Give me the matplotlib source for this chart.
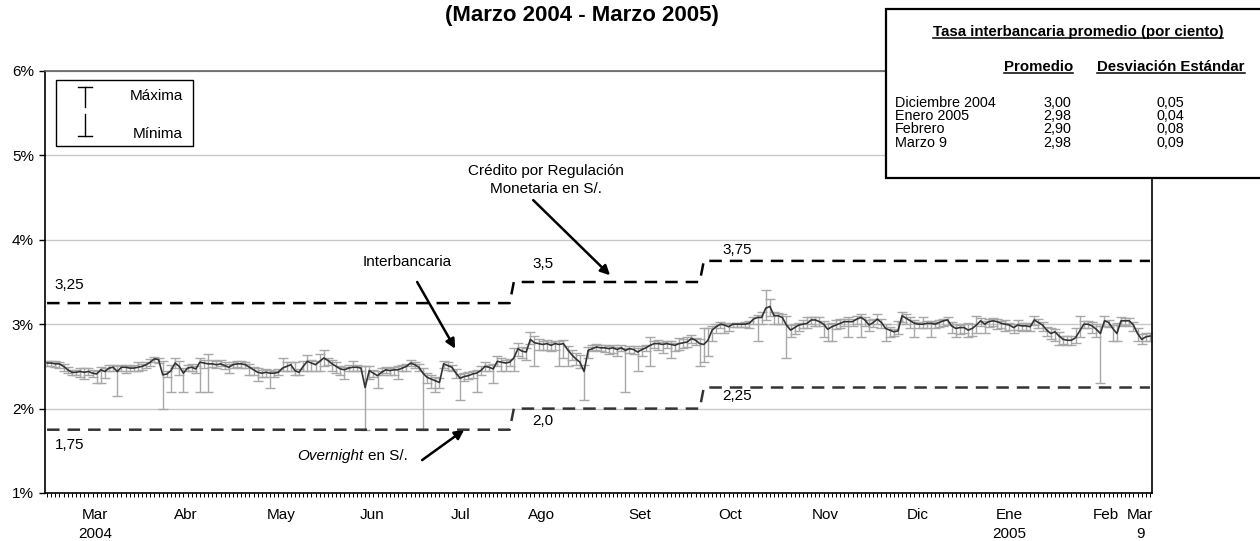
import numpy as np
import matplotlib
matplotlib.use('Agg')
import matplotlib.pyplot as plt
from matplotlib.patches import Rectangle
from matplotlib.lines import Line2D

plt.rcParams['font.family'] = ['Liberation Sans', 'DejaVu Sans']

# Tasa interbancaria diaria (%): promedio, maxima y minima
tasa_prom = [2.54, 2.54, 2.53, 2.53, 2.50, 2.46, 2.43, 2.43, 2.44, 2.43,
             2.44, 2.42, 2.41, 2.46, 2.44, 2.48, 2.49, 2.44, 2.49, 2.49,
             2.48, 2.48, 2.49, 2.50, 2.52, 2.55, 2.59, 2.58, 2.40, 2.41,
             2.45, 2.54, 2.50, 2.42, 2.48, 2.49, 2.47, 2.55, 2.54, 2.53,
             2.53, 2.52, 2.53, 2.51, 2.49, 2.52, 2.53, 2.53, 2.52, 2.49,
             2.46, 2.43, 2.42, 2.43, 2.42, 2.42, 2.43, 2.48, 2.50, 2.52,
             2.45, 2.43, 2.50, 2.56, 2.54, 2.52, 2.56, 2.60, 2.57, 2.53,
             2.50, 2.47, 2.46, 2.48, 2.49, 2.49, 2.48, 2.25, 2.45, 2.42,
             2.39, 2.43, 2.46, 2.45, 2.46, 2.46, 2.48, 2.50, 2.54, 2.52,
             2.49, 2.42, 2.37, 2.35, 2.33, 2.31, 2.53, 2.51, 2.49, 2.42,
             2.36, 2.38, 2.39, 2.41, 2.42, 2.45, 2.50, 2.49, 2.47, 2.56,
             2.55, 2.54, 2.55, 2.60, 2.71, 2.68, 2.67, 2.82, 2.78, 2.77,
             2.76, 2.77, 2.75, 2.77, 2.76, 2.77, 2.70, 2.64, 2.59, 2.55,
             2.44, 2.69, 2.71, 2.73, 2.72, 2.72, 2.71, 2.72, 2.70, 2.72,
             2.69, 2.71, 2.70, 2.67, 2.70, 2.72, 2.75, 2.77, 2.77, 2.76,
             2.77, 2.76, 2.75, 2.77, 2.78, 2.79, 2.83, 2.81, 2.77, 2.76,
             2.81, 2.93, 2.97, 3.00, 2.99, 2.97, 3.00, 3.00, 3.00, 3.00,
             3.01, 3.06, 3.08, 3.08, 3.19, 3.21, 3.10, 3.10, 3.08, 2.99,
             2.93, 2.96, 2.99, 3.00, 3.01, 3.05, 3.05, 3.03, 3.00, 2.94,
             2.97, 2.99, 3.01, 3.03, 3.03, 3.03, 3.06, 3.08, 3.05, 2.99,
             3.02, 3.06, 3.02, 2.95, 2.93, 2.91, 2.92, 3.10, 3.07, 3.04,
             3.01, 3.00, 3.00, 3.01, 3.01, 3.00, 3.02, 3.04, 3.05, 2.98,
             2.95, 2.96, 2.96, 2.93, 2.95, 2.99, 3.04, 3.00, 3.03, 3.04,
             3.03, 3.01, 3.00, 2.99, 2.96, 2.99, 2.98, 2.98, 2.97, 3.05,
             3.02, 2.99, 2.93, 2.89, 2.91, 2.86, 2.82, 2.81, 2.81, 2.84,
             2.92, 3.00, 3.00, 2.98, 2.94, 2.89, 3.04, 3.02, 2.95, 2.89,
             3.04, 3.04, 3.04, 2.99, 2.89, 2.82, 2.85, 2.86]

tasa_max = [2.56, 2.56, 2.56, 2.55, 2.53, 2.49, 2.46, 2.46, 2.48, 2.48,
            2.48, 2.46, 2.45, 2.49, 2.48, 2.52, 2.52, 2.50, 2.52, 2.52,
            2.51, 2.52, 2.55, 2.53, 2.55, 2.59, 2.61, 2.60, 2.56, 2.45,
            2.52, 2.60, 2.56, 2.48, 2.52, 2.53, 2.51, 2.60, 2.58, 2.65,
            2.57, 2.56, 2.57, 2.55, 2.53, 2.55, 2.56, 2.56, 2.55, 2.53,
            2.49, 2.48, 2.46, 2.47, 2.46, 2.45, 2.47, 2.60, 2.55, 2.55,
            2.55, 2.47, 2.56, 2.63, 2.58, 2.56, 2.65, 2.70, 2.60, 2.58,
            2.55, 2.50, 2.49, 2.52, 2.56, 2.52, 2.51, 2.50, 2.50, 2.46,
            2.44, 2.48, 2.49, 2.48, 2.49, 2.50, 2.52, 2.53, 2.57, 2.55,
            2.53, 2.48, 2.42, 2.40, 2.38, 2.36, 2.56, 2.55, 2.52, 2.47,
            2.41, 2.42, 2.43, 2.45, 2.46, 2.50, 2.55, 2.52, 2.53, 2.62,
            2.60, 2.57, 2.59, 2.72, 2.78, 2.73, 2.72, 2.91, 2.86, 2.82,
            2.80, 2.81, 2.79, 2.80, 2.80, 2.81, 2.74, 2.70, 2.66, 2.63,
            2.52, 2.73, 2.75, 2.76, 2.75, 2.75, 2.74, 2.75, 2.73, 2.75,
            2.72, 2.74, 2.74, 2.72, 2.74, 2.75, 2.85, 2.80, 2.81, 2.79,
            2.80, 2.80, 2.78, 2.84, 2.83, 2.85, 2.87, 2.84, 2.82, 2.95,
            2.95, 2.98, 3.00, 3.03, 3.02, 3.00, 3.02, 3.02, 3.02, 3.03,
            3.04, 3.09, 3.11, 3.14, 3.40, 3.30, 3.15, 3.13, 3.12, 3.10,
            2.99, 3.00, 3.02, 3.05, 3.08, 3.09, 3.08, 3.08, 3.04, 3.00,
            3.02, 3.05, 3.06, 3.06, 3.08, 3.06, 3.10, 3.12, 3.08, 3.05,
            3.06, 3.12, 3.06, 3.00, 2.97, 2.94, 3.04, 3.15, 3.12, 3.08,
            3.05, 3.03, 3.08, 3.04, 3.04, 3.03, 3.05, 3.06, 3.08, 3.03,
            3.00, 2.99, 3.00, 3.02, 3.00, 3.10, 3.07, 3.04, 3.06, 3.07,
            3.06, 3.04, 3.05, 3.02, 3.00, 3.05, 3.01, 3.01, 3.00, 3.10,
            3.06, 3.03, 2.97, 2.95, 2.94, 2.91, 2.86, 2.86, 2.86, 2.95,
            3.10, 3.04, 3.04, 3.03, 3.00, 2.98, 3.10, 3.05, 2.99, 3.02,
            3.08, 3.07, 3.07, 3.03, 2.95, 2.88, 2.90, 2.90]

tasa_min = [2.50, 2.50, 2.49, 2.48, 2.45, 2.42, 2.40, 2.40, 2.38, 2.35,
            2.40, 2.38, 2.30, 2.30, 2.36, 2.44, 2.45, 2.15, 2.44, 2.42,
            2.44, 2.45, 2.45, 2.46, 2.48, 2.50, 2.55, 2.54, 2.00, 2.38,
            2.20, 2.48, 2.40, 2.20, 2.44, 2.44, 2.42, 2.20, 2.48, 2.20,
            2.49, 2.48, 2.50, 2.47, 2.42, 2.48, 2.49, 2.48, 2.48, 2.40,
            2.40, 2.33, 2.38, 2.38, 2.25, 2.38, 2.40, 2.44, 2.45, 2.45,
            2.40, 2.40, 2.45, 2.45, 2.45, 2.45, 2.45, 2.50, 2.52, 2.45,
            2.42, 2.40, 2.35, 2.44, 2.45, 2.45, 2.44, 1.75, 2.35, 2.38,
            2.25, 2.40, 2.42, 2.40, 2.40, 2.35, 2.45, 2.45, 2.50, 2.48,
            2.45, 1.75, 2.30, 2.25, 2.20, 2.25, 2.48, 2.46, 2.45, 2.36,
            2.10, 2.33, 2.35, 2.36, 2.20, 2.40, 2.45, 2.44, 2.30, 2.50,
            2.45, 2.45, 2.50, 2.45, 2.62, 2.60, 2.58, 2.76, 2.50, 2.70,
            2.70, 2.70, 2.68, 2.70, 2.50, 2.60, 2.50, 2.58, 2.52, 2.48,
            2.10, 2.60, 2.68, 2.69, 2.68, 2.67, 2.65, 2.66, 2.62, 2.68,
            2.20, 2.66, 2.65, 2.45, 2.62, 2.68, 2.50, 2.72, 2.70, 2.66,
            2.72, 2.60, 2.68, 2.70, 2.72, 2.73, 2.78, 2.75, 2.50, 2.55,
            2.62, 2.80, 2.90, 2.95, 2.90, 2.92, 2.97, 2.97, 2.97, 2.97,
            2.96, 3.00, 2.80, 3.00, 3.05, 3.10, 3.00, 3.00, 3.00, 2.60,
            2.85, 2.88, 2.92, 2.95, 2.96, 3.00, 2.98, 2.98, 2.85, 2.80,
            2.80, 2.94, 2.96, 2.98, 2.85, 2.98, 3.00, 2.85, 2.98, 2.92,
            2.97, 3.00, 2.95, 2.80, 2.85, 2.86, 2.88, 3.03, 3.00, 2.95,
            2.85, 2.95, 2.96, 2.95, 2.85, 2.95, 2.97, 2.98, 2.99, 2.90,
            2.85, 2.88, 2.90, 2.85, 2.86, 2.90, 2.98, 2.90, 2.97, 2.98,
            2.94, 2.95, 2.92, 2.93, 2.90, 2.93, 2.92, 2.93, 2.92, 2.99,
            2.96, 2.92, 2.86, 2.83, 2.80, 2.75, 2.77, 2.75, 2.75, 2.78,
            2.85, 2.95, 2.95, 2.90, 2.85, 2.30, 2.98, 2.97, 2.80, 2.80,
            2.98, 2.99, 2.98, 2.92, 2.80, 2.76, 2.80, 2.80]

# Corredor: credito por regulacion monetaria y overnight (%)
tasa_credito = [3.25, 3.5, 3.75]
tasa_overnight = [1.75, 2.0, 2.25]
dia_cambio = [113, 159]   # indice del dia en que cambia la tasa

meses = ['Mar\n2004', 'Abr', 'May', 'Jun', 'Jul', 'Ago', 'Set', 'Oct',
         'Nov', 'Dic', 'Ene\n2005', 'Feb', 'Mar\n9']
pos_meses = [11.6, 33.6, 56.6, 78.7, 100, 119.6, 143.6, 165.4, 188.4,
             210.9, 232.9, 256.2, 264.6]

tabla_filas = ['Diciembre 2004', 'Enero 2005', 'Febrero', 'Marzo 9']
tabla_prom = ['3,00', '2,98', '2,90', '2,98']
tabla_desv = ['0,05', '0,04', '0,08', '0,09']

prom = np.array(tasa_prom)
tmax = np.array(tasa_max)
tmin = np.array(tasa_min)
n = len(prom)
x = np.arange(n)
tramo = np.searchsorted(dia_cambio, x, side='right')
credito = np.array(tasa_credito)[tramo]
overnight = np.array(tasa_overnight)[tramo]

fs = 11
fig = plt.figure(figsize=(12.6, 5.41), dpi=100)
ax = fig.add_axes([45 / 1260, 1 - 493 / 541, 1107 / 1260, 422 / 541])

ax.errorbar(x, prom, yerr=[prom - tmin, tmax - prom], fmt='none',
            ecolor='#a8a8a8', elinewidth=1, capsize=3.5, capthick=1, zorder=2)
ax.plot(x, prom, color='#333333', lw=1.2, zorder=3)
ax.plot(x, credito, color='black', lw=1.8, dashes=(5, 3.2), zorder=4)
ax.plot(x, overnight, color='#333333', lw=1.8, dashes=(5, 3.2), zorder=4)

ax.set_xlim(-0.5, n - 0.5)
ax.set_ylim(1, 6)
ax.set_yticks([1, 2, 3, 4, 5, 6])
ax.set_yticklabels(['1%', '2%', '3%', '4%', '5%', '6%'], fontsize=fs)
ax.yaxis.grid(True, color='#c8c8c8', lw=1)
ax.set_axisbelow(True)
ax.set_xticks(pos_meses)
ax.set_xticklabels(meses, fontsize=fs)
for lab in ax.get_xticklabels():
    lab.set_linespacing(1.4)
ax.set_xticks(x, minor=True)
ax.tick_params(axis='x', which='major', length=0, pad=11)
ax.tick_params(axis='x', which='minor', length=3, width=0.7, direction='out')
ax.tick_params(axis='y', length=4, width=1, direction='out', pad=4)
for s in ['left', 'right', 'bottom']:
    ax.spines[s].set_color('black')
    ax.spines[s].set_linewidth(1.2)
ax.spines['top'].set_color('#606060')
ax.spines['top'].set_linewidth(1.2)

# etiquetas del corredor
kw = dict(fontsize=fs, ha='left', va='center')
ax.text(1.9, 3.46, '3,25', **kw)
ax.text(1.9, 1.57, '1,75', **kw)
ax.text(117.4, 3.71, '3,5', **kw)
ax.text(117.4, 1.85, '2,0', **kw)
ax.text(163.4, 3.88, '3,75', **kw)
ax.text(163.4, 2.15, '2,25', **kw)

flecha = dict(arrowstyle='-|>', color='black', lw=1.8, mutation_scale=14,
              shrinkA=0, shrinkB=0)
ax.text(87.1, 3.74, 'Interbancaria', fontsize=fs, ha='center', va='center')
ax.annotate('', xy=(98.8, 2.71), xytext=(89.6, 3.50), arrowprops=flecha)
ax.text(120.8, 4.71, 'Crédito por Regulación\nMonetaria en S/.', fontsize=fs,
        ha='center', va='center', linespacing=1.35)
ax.annotate('', xy=(136.3, 3.58), xytext=(117.7, 4.47), arrowprops=flecha)
ax.text(76.6, 1.44, 'Overnight', fontsize=fs, style='italic', ha='right', va='center')
ax.text(77.6, 1.44, 'en S/.', fontsize=fs, ha='left', va='center')
ax.annotate('', xy=(101, 1.75), xytext=(90.8, 1.39), arrowprops=flecha)

# leyenda manual de las barras
ax.add_patch(Rectangle((0.0099, 0.822), 0.1238, 0.156, transform=ax.transAxes,
                       fill=True, facecolor='white', edgecolor='black', lw=1, zorder=6))
lx = 0.0361
ax.add_line(Line2D([lx, lx], [0.962, 0.915], color='black', lw=1, transform=ax.transAxes, zorder=7))
ax.add_line(Line2D([lx, lx], [0.898, 0.846], color='black', lw=1, transform=ax.transAxes, zorder=7))
ax.add_line(Line2D([lx - 0.0063, lx + 0.0063], [0.962, 0.962], color='black', lw=1, transform=ax.transAxes, zorder=7))
ax.add_line(Line2D([lx - 0.0063, lx + 0.0063], [0.846, 0.846], color='black', lw=1, transform=ax.transAxes, zorder=7))
ax.text(0.1247, 0.941, 'Máxima', fontsize=fs, ha='right', va='center', transform=ax.transAxes, zorder=7)
ax.text(0.1247, 0.850, 'Mínima', fontsize=fs, ha='right', va='center', transform=ax.transAxes, zorder=7)

# titulo
fig.text(582 / 1260, 1 - 15 / 541, '(Marzo 2004 - Marzo 2005)', fontsize=16,
         fontweight='bold', ha='center', va='center')

# cuadro de tasas promedio
fig.add_artist(Rectangle((886 / 1260, 1 - 178 / 541), 380 / 1260, 169 / 541,
                         transform=fig.transFigure, facecolor='white',
                         edgecolor='black', lw=1.6, zorder=8))


def fy(py):
    return 1 - py / 541


ft = 10.4
subrayados = []
t = fig.text(1078 / 1260, fy(32), 'Tasa interbancaria promedio (por ciento)', fontsize=ft + 0.4,
             fontweight='bold', ha='center', va='center', zorder=9)
subrayados.append(t)
t = fig.text(1073 / 1260, fy(67), 'Promedio', fontsize=ft + 0.4, fontweight='bold',
             ha='right', va='center', zorder=9)
subrayados.append(t)
t = fig.text(1097 / 1260, fy(67), 'Desviación Estándar', fontsize=ft + 0.4, fontweight='bold',
             ha='left', va='center', zorder=9)
subrayados.append(t)

filas_y = [102.7, 116, 129.3, 142.7]
for k in range(len(tabla_filas)):
    fig.text(895 / 1260, fy(filas_y[k]), tabla_filas[k], fontsize=ft, ha='left', va='center', zorder=9)
    fig.text(1071 / 1260, fy(filas_y[k]), tabla_prom[k], fontsize=ft, ha='right', va='center', zorder=9)
    fig.text(1170 / 1260, fy(filas_y[k]), tabla_desv[k], fontsize=ft, ha='center', va='center', zorder=9)

fig.canvas.draw()
inv = fig.transFigure.inverted()
for t in subrayados:
    bb = t.get_window_extent()
    (x0, y0), (x1, y1) = inv.transform([(bb.x0, bb.y0 + 1), (bb.x1, bb.y0 + 1)])
    fig.add_artist(Line2D([x0, x1], [y0, y0], color='black', lw=1.1,
                          transform=fig.transFigure, zorder=9))

fig.savefig('out.png', dpi=100)
